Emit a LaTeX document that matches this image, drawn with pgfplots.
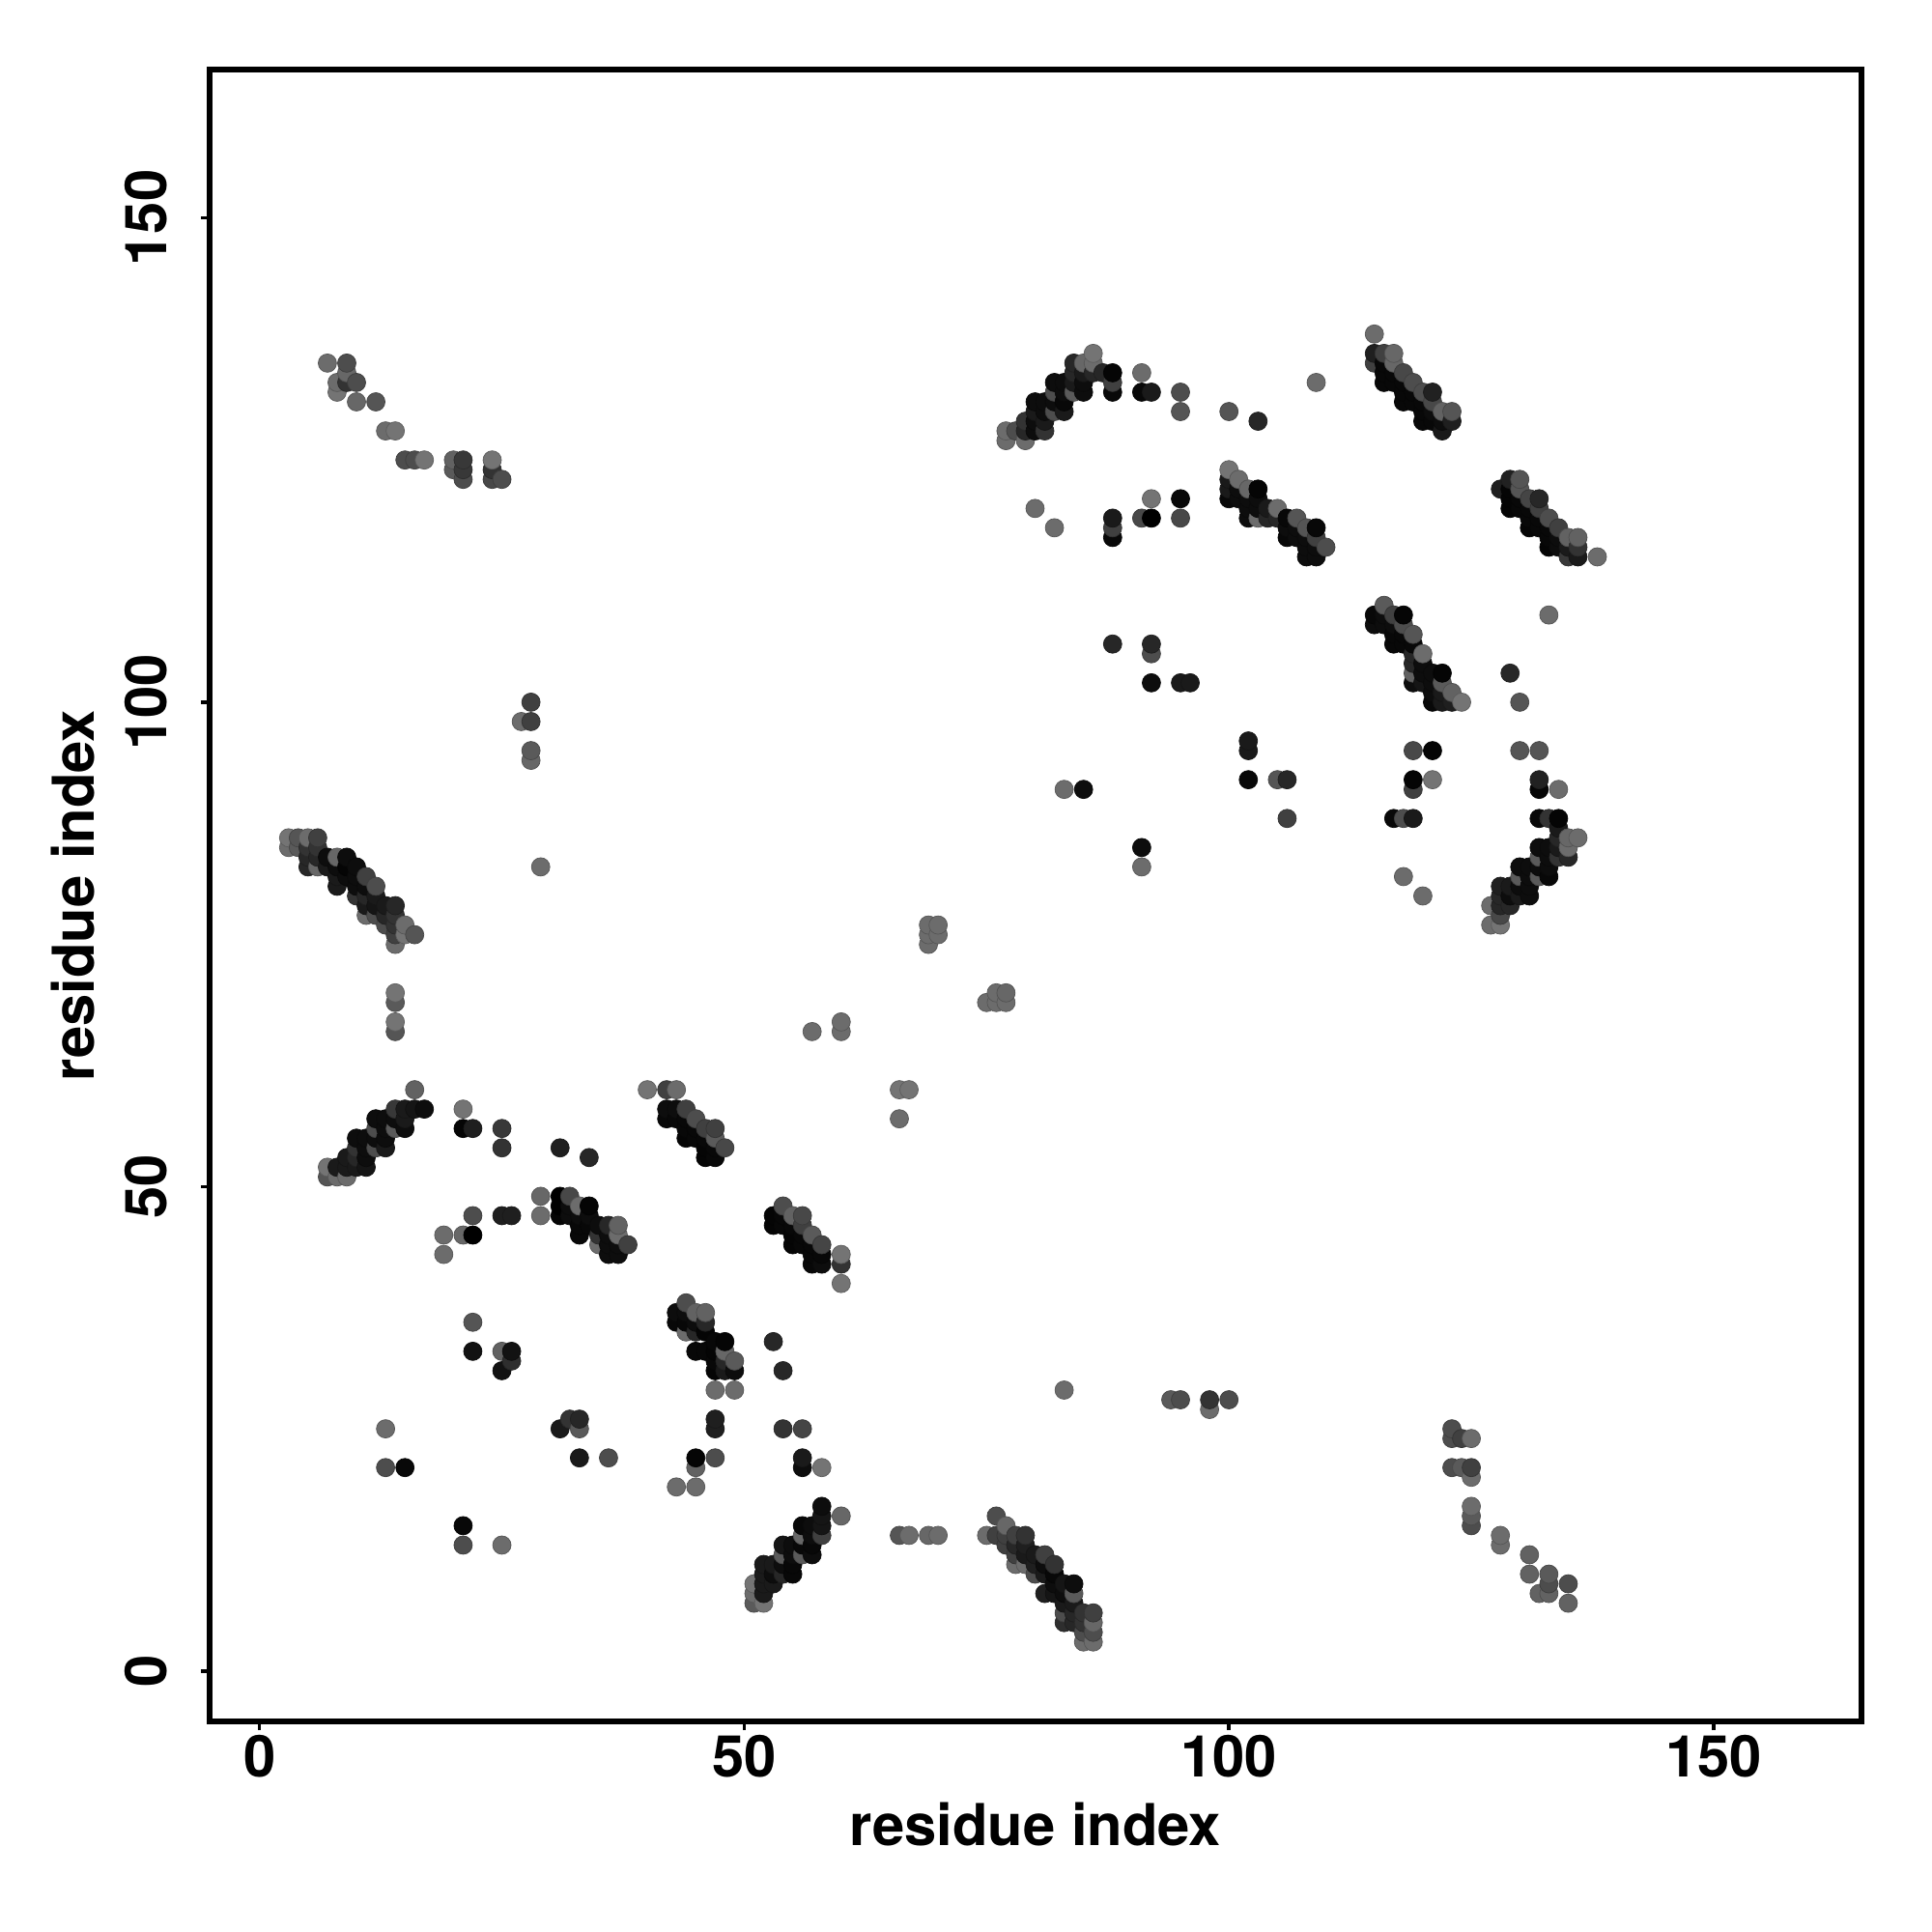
\documentclass[border=0pt]{standalone}
\usepackage{fontspec}
\setmainfont{TeX Gyre Heros}
\usepackage{pgfplots}
\pgfplotsset{compat=1.18}
\begin{document}
\begin{tikzpicture}
\path[use as bounding box] (-2.17cm,-2.18cm) rectangle (17.83cm,17.82cm);
\begin{axis}[
  at={(0,0)},anchor=south west,
  scale only axis,width=17.1cm,height=17.1cm,
  xmin=-5.15,xmax=165.25,ymin=-5.2,ymax=165.3,
  xtick={0,50,100,150},ytick={0,50,100,150},
  tick pos=lower,tick align=outside,major tick length=0.9mm,
  axis line style={line width=1.6pt},
  every tick/.style={black,line width=1pt},
  /pgf/number format/assume math mode=true,
  ticklabel style={font=\fontsize{17}{19}\selectfont\bfseries},
  label style={font=\fontsize{17}{19}\selectfont\bfseries},
  xticklabel style={yshift=0.7mm},
  yticklabel style={rotate=90,anchor=south,yshift=2.3mm},
  xlabel={residue index},ylabel={residue index},
  xlabel style={at={(axis description cs:0.5,0)},anchor=north,yshift=-7.2mm},
  ylabel style={at={(axis description cs:0,0.5)},anchor=south,rotate=0,yshift=10.7mm},
  colormap={g}{gray(0cm)=(0); gray(1cm)=(1)},
  point meta min=0,point meta max=1,
]
\addplot[scatter,only marks,mark=*,mark size=2.7pt,mark options={line width=0.2pt},point meta=explicit]
coordinates {
(3,85) [.42] (3,86) [.45]
(4,85) [.35] (4,86) [.33]
(5,83) [.15] (5,84) [.15] (5,85) [.2] (5,86) [.42]
(6,83) [.4] (6,84) [.15] (6,85) [.2] (6,86) [.25]
(7,51) [.33] (7,52) [.45] (7,83) [.1] (7,84) [.05] (7,135) [.42]
(8,51) [.42] (8,52) [.1] (8,81) [.1] (8,82) [.1] (8,83) [.05] (8,84) [.4] (8,132) [.45] (8,133) [.42]
(9,51) [.42] (9,52) [.1] (9,53) [.1] (9,82) [.05] (9,83) [.02] (9,84) [.05] (9,133) [.2] (9,134) [.4] (9,135) [.3]
(10,52) [.1] (10,53) [.15] (10,54) [.2] (10,55) [.05] (10,80) [.2] (10,81) [.05] (10,82) [.05] (10,83) [.05] (10,131) [.4] (10,133) [.3]
(11,52) [.08] (11,53) [.05] (11,54) [.05] (11,55) [.05] (11,78) [.42] (11,79) [.1] (11,80) [.15] (11,81) [.05] (11,82) [.25]
(12,54) [.3] (12,55) [.05] (12,56) [.3] (12,57) [.05] (12,78) [.3] (12,79) [.08] (12,80) [.1] (12,81) [.3] (12,131) [.33]
(13,21) [.3] (13,25) [.42] (13,54) [.1] (13,55) [.05] (13,56) [.05] (13,57) [.05] (13,77) [.3] (13,78) [.15] (13,79) [.1] (13,128) [.42]
(14,56) [.35] (14,57) [.05] (14,58) [.22] (14,66) [.33] (14,67) [.45] (14,69) [.35] (14,70) [.45] (14,75) [.42] (14,76) [.25] (14,77) [.2] (14,78) [.2] (14,79) [.15] (14,128) [.45]
(15,21) [.03] (15,56) [.05] (15,57) [.1] (15,58) [.1] (15,76) [.45] (15,77) [.42] (15,125) [.3]
(16,58) [.08] (16,60) [.38] (16,76) [.33] (16,125) [.3]
(17,58) [.05] (17,125) [.45]
(19,43) [.42] (19,45) [.42]
(20,124) [.35] (20,125) [.38]
(21,13) [.3] (21,15) [.03] (21,45) [.4] (21,56) [.02] (21,58) [.45] (21,123) [.3] (21,124) [.22] (21,125) [.22]
(22,33) [.07] (22,36) [.33] (22,45) [0] (22,47) [.3] (22,56) [.12]
(24,123) [.28] (24,124) [.2] (24,125) [.45]
(25,13) [.42] (25,31) [.07] (25,33) [.38] (25,47) [.12] (25,54) [.2] (25,56) [.22] (25,123) [.3]
(26,32) [.18] (26,33) [.07] (26,47) [.12]
(27,98) [.42]
(28,94) [.4] (28,95) [.35] (28,98) [.25] (28,100) [.25]
(29,47) [.42] (29,49) [.4] (29,83) [.42]
(31,25) [.1] (31,47) [.02] (31,48) [0] (31,49) [0] (31,54) [.12]
(32,26) [.2] (32,47) [.05] (32,48) [.05] (32,49) [.28]
(33,22) [.1] (33,25) [.35] (33,26) [.15] (33,45) [.03] (33,46) [.03] (33,47) [.05] (33,48) [.42]
(34,46) [.03] (34,47) [.05] (34,48) [.02] (34,53) [.15]
(35,44) [.42] (35,45) [.2] (35,46) [.05]
(36,22) [.3] (36,43) [.05] (36,44) [.05] (36,45) [.05] (36,46) [.15]
(37,43) [.05] (37,44) [.05] (37,45) [.42] (37,46) [.38]
(38,44) [.25]
(40,60) [.45]
(42,57) [.03] (42,58) [.05] (42,60) [.25]
(43,19) [.42] (43,36) [.03] (43,37) [.05] (43,57) [.03] (43,58) [.05] (43,60) [.42]
(44,35) [.42] (44,36) [.03] (44,37) [.05] (44,38) [.3] (44,55) [.02] (44,56) [.03] (44,57) [.03] (44,58) [.25]
(45,19) [.42] (45,21) [.38] (45,22) [.02] (45,33) [.03] (45,35) [.15] (45,36) [.05] (45,37) [.38] (45,55) [.03] (45,56) [.03] (45,57) [.3]
(46,33) [.03] (46,35) [.02] (46,36) [.15] (46,37) [.38] (46,53) [.02] (46,54) [.02] (46,55) [.03] (46,56) [.25]
(47,22) [.3] (47,25) [.12] (47,26) [.12] (47,29) [.42] (47,31) [.02] (47,32) [.03] (47,33) [.02] (47,34) [.03] (47,53) [.03] (47,54) [.03] (47,55) [.35] (47,56) [.25]
(48,31) [.1] (48,32) [.15] (48,33) [.4] (48,34) [.02] (48,54) [.28]
(49,29) [.42] (49,31) [.05] (49,32) [.35]
(51,7) [.35] (51,8) [.42] (51,9) [.45]
(52,7) [.45] (52,8) [.1] (52,9) [.1] (52,10) [.1] (52,11) [.1]
(53,9) [.1] (53,10) [.05] (53,11) [.1] (53,34) [.15] (53,46) [.02] (53,47) [.02]
(54,10) [.15] (54,11) [.05] (54,12) [.35] (54,13) [.08] (54,25) [.2] (54,31) [.15] (54,46) [.03] (54,47) [.03] (54,48) [.3]
(55,10) [.03] (55,11) [.03] (55,12) [.05] (55,13) [.05] (55,44) [.02] (55,45) [.02] (55,46) [.03] (55,47) [.38]
(56,12) [.35] (56,13) [.03] (56,14) [.4] (56,15) [.03] (56,21) [.05] (56,22) [.1] (56,25) [.27] (56,44) [.03] (56,45) [.03] (56,46) [.25] (56,47) [.28]
(57,12) [.05] (57,13) [.03] (57,14) [.05] (57,15) [.05] (57,42) [.03] (57,43) [.03] (57,44) [.03] (57,45) [.35] (57,66) [.42]
(58,14) [.25] (58,15) [.08] (58,16) [.08] (58,17) [.05] (58,21) [.45] (58,42) [.05] (58,43) [.03] (58,44) [.27]
(60,16) [.4] (60,40) [.45] (60,42) [.2] (60,43) [.45] (60,66) [.42] (60,67) [.42]
(66,14) [.33] (66,57) [.42] (66,60) [.45]
(67,14) [.42] (67,60) [.45]
(69,14) [.4] (69,75) [.42] (69,76) [.42] (69,77) [.42]
(70,14) [.42] (70,76) [.42] (70,77) [.42]
(75,14) [.42] (75,69) [.42]
(76,14) [.25] (76,16) [.3] (76,69) [.42] (76,70) [.42]
(77,13) [.25] (77,14) [.25] (77,15) [.4] (77,69) [.42] (77,70) [.4] (77,127) [.42] (77,128) [.42]
(78,11) [.42] (78,12) [.25] (78,13) [.15] (78,14) [.25] (78,128) [.3]
(79,11) [.42] (79,12) [.1] (79,13) [.12] (79,14) [.2] (79,127) [.42] (79,128) [.15] (79,129) [.2]
(80,10) [.3] (80,11) [.12] (80,12) [.1] (80,120) [.42] (80,128) [.05] (80,129) [.05] (80,130) [.1] (80,131) [.05]
(81,8) [.12] (81,10) [.1] (81,11) [.05] (81,12) [.25] (81,128) [.2] (81,129) [.1] (81,130) [.05] (81,131) [.05]
(82,8) [.08] (82,9) [.05] (82,10) [.03] (82,11) [.2] (82,118) [.42] (82,130) [.3] (82,131) [.05] (82,132) [.3] (82,133) [.05]
(83,5) [.18] (83,6) [.3] (83,7) [.1] (83,8) [.05] (83,9) [.08] (83,29) [.42] (83,91) [.42] (83,130) [.1] (83,131) [.03] (83,132) [.05] (83,133) [.05]
(84,5) [.15] (84,6) [.15] (84,7) [.1] (84,8) [.35] (84,9) [.05] (84,132) [.35] (84,133) [.1] (84,134) [.15] (84,135) [.15]
(85,3) [.42] (85,4) [.3] (85,5) [.2] (85,6) [.2] (85,91) [.05] (85,132) [.05] (85,133) [.05] (85,134) [.1] (85,135) [.4]
(86,3) [.42] (86,4) [.3] (86,5) [.4] (86,6) [.25] (86,134) [.15] (86,135) [.42] (86,136) [.45]
(87,134) [.15]
(88,106) [.15] (88,117) [.03] (88,118) [.25] (88,119) [.1] (88,132) [.03] (88,133) [.25] (88,134) [.02]
(91,83) [.42] (91,85) [.05] (91,119) [.28] (91,132) [.03] (91,134) [.42]
(92,102) [.05] (92,105) [.3] (92,106) [.15] (92,119) [0] (92,121) [.45] (92,132) [.1]
(94,28) [.35]
(95,28) [.3] (95,102) [.1] (95,119) [.28] (95,121) [.03] (95,130) [.33] (95,132) [.3]
(96,102) [.1]
(98,27) [.42] (98,28) [.2]
(100,28) [.3] (100,121) [.03] (100,122) [.1] (100,123) [.1] (100,124) [.45] (100,130) [.33]
(101,121) [.05] (101,122) [.05] (101,123) [.42]
(102,92) [.03] (102,95) [.1] (102,96) [.1] (102,119) [.05] (102,120) [.05] (102,121) [.05] (102,122) [.4]
(103,119) [.42] (103,120) [.05] (103,121) [.05] (103,122) [.02] (103,129) [.15]
(104,119) [.15] (104,120) [.1]
(105,92) [.33] (105,119) [.15] (105,120) [.42]
(106,88) [.25] (106,92) [.15] (106,117) [.03] (106,118) [.05] (106,119) [.03]
(107,117) [.05] (107,118) [.05] (107,119) [.33]
(108,115) [.05] (108,116) [.05] (108,117) [.05] (108,118) [.33]
(109,115) [.05] (109,116) [.05] (109,117) [.25] (109,118) [.03] (109,133) [.42]
(110,116) [.3]
(115,108) [.05] (115,109) [.03] (115,135) [.25] (115,136) [.12] (115,138) [.42]
(116,108) [.05] (116,109) [.05] (116,110) [.35] (116,133) [.03] (116,134) [.03] (116,135) [.03] (116,136) [.25]
(117,88) [.03] (117,106) [.03] (117,107) [.03] (117,108) [.05] (117,109) [.25] (117,133) [.03] (117,134) [.03] (117,135) [.4] (117,136) [.4]
(118,82) [.42] (118,88) [.3] (118,106) [.03] (118,107) [.03] (118,108) [.3] (118,109) [.02] (118,131) [.03] (118,132) [.03] (118,133) [.03] (118,134) [.28]
(119,88) [.1] (119,91) [.25] (119,92) [.02] (119,95) [.28] (119,102) [.05] (119,103) [.38] (119,104) [.15] (119,105) [.15] (119,106) [.03] (119,107) [.33] (119,131) [.03] (119,132) [.03] (119,133) [.3]
(120,80) [.42] (120,102) [.08] (120,103) [.05] (120,104) [.05] (120,105) [.42] (120,129) [.03] (120,130) [.03] (120,131) [.03] (120,132) [.3]
(121,92) [.45] (121,95) [.02] (121,100) [.03] (121,101) [.05] (121,102) [.05] (121,103) [.05] (121,129) [.03] (121,130) [.05] (121,131) [.28] (121,132) [.13]
(122,100) [.1] (122,101) [.1] (122,102) [.35] (122,103) [.02] (122,128) [.1] (122,129) [.05] (122,130) [.38]
(123,21) [.3] (123,24) [.3] (123,25) [.3] (123,100) [.12] (123,101) [.38] (123,129) [.12] (123,130) [.33]
(124,21) [.35] (124,24) [.25] (124,100) [.45]
(125,15) [.3] (125,16) [.35] (125,17) [.42] (125,20) [.42] (125,21) [.25] (125,24) [.42]
(127,77) [.42] (127,79) [.42]
(128,13) [.42] (128,14) [.42] (128,77) [.45] (128,78) [.28] (128,79) [.15] (128,80) [.15] (128,81) [.12] (128,122) [.12]
(129,79) [.15] (129,80) [.05] (129,81) [.1] (129,103) [.15] (129,120) [.02] (129,121) [.02] (129,122) [.02] (129,123) [.13]
(130,80) [.1] (130,81) [.05] (130,82) [.35] (130,83) [.05] (130,95) [.33] (130,100) [.33] (130,120) [.03] (130,121) [.03] (130,122) [.33] (130,123) [.33]
(131,10) [.38] (131,12) [.38] (131,80) [.05] (131,81) [.05] (131,82) [.05] (131,83) [.05] (131,118) [.02] (131,119) [.03] (131,120) [.03] (131,121) [.27]
(132,8) [.38] (132,82) [.35] (132,83) [.05] (132,84) [.35] (132,85) [.05] (132,88) [.03] (132,91) [.02] (132,92) [.13] (132,95) [.33] (132,118) [.03] (132,119) [.03] (132,120) [.25] (132,121) [.15]
(133,8) [.38] (133,9) [.3] (133,10) [.35] (133,82) [.03] (133,83) [.05] (133,84) [.05] (133,85) [.05] (133,88) [.2] (133,109) [.42] (133,116) [.02] (133,117) [.03] (133,118) [.03] (133,119) [.3]
(134,84) [.2] (134,85) [.1] (134,86) [.15] (134,87) [.1] (134,88) [.02] (134,91) [.42] (134,116) [.05] (134,117) [.05] (134,118) [.25]
(135,7) [.38] (135,9) [.3] (135,84) [.15] (135,85) [.42] (135,86) [.4] (135,115) [.22] (135,116) [.1] (135,117) [.38]
(136,86) [.42] (136,115) [.1] (136,116) [.2] (136,117) [.38]
(138,115) [.42]
};
\end{axis}
\end{tikzpicture}
\end{document}
